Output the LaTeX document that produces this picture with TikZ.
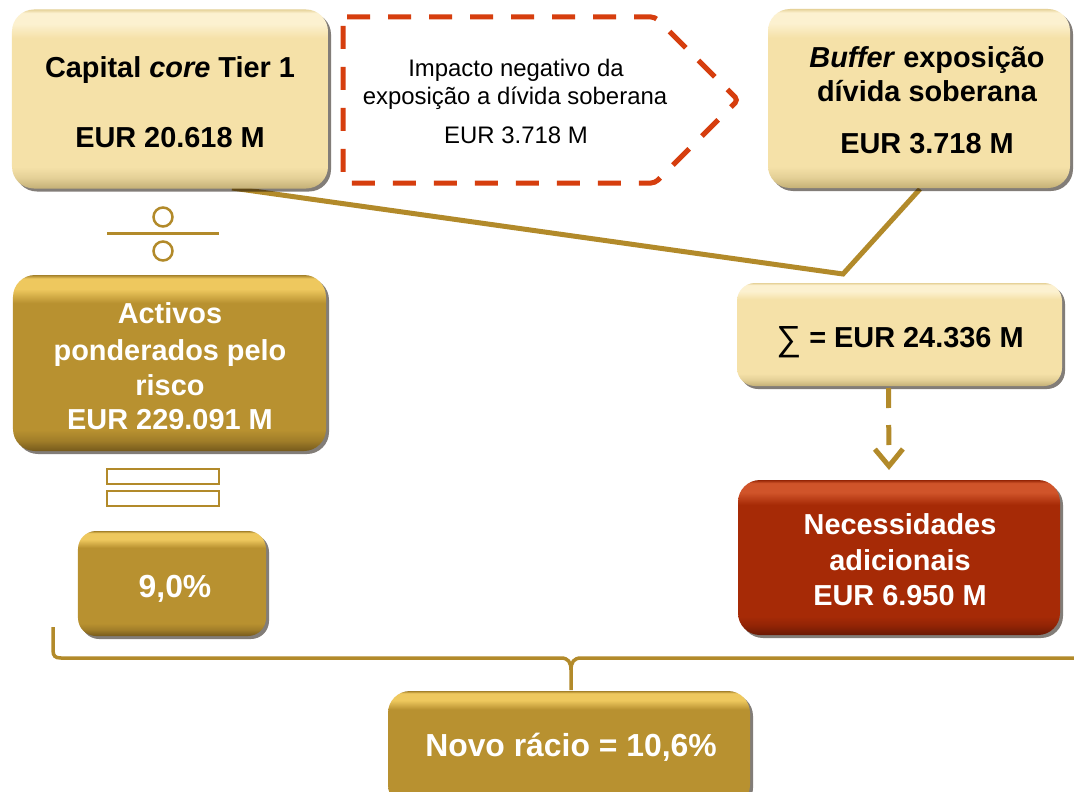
\documentclass[tikz,border=0pt]{standalone}
\usepackage{fontspec}
\setmainfont{Liberation Sans}
\usetikzlibrary{shadows,arrows.meta,calc}

\definecolor{beigeB}{RGB}{245,225,168}
\definecolor{beigeL}{RGB}{252,241,208}
\definecolor{beigeD}{RGB}{196,176,118}
\definecolor{goldB}{RGB}{184,145,48}
\definecolor{goldL}{RGB}{238,200,94}
\definecolor{goldD}{RGB}{118,90,28}
\definecolor{redB}{RGB}{166,42,6}
\definecolor{redL}{RGB}{208,84,42}
\definecolor{redD}{RGB}{105,24,4}
\definecolor{lineGold}{RGB}{178,138,42}
\definecolor{dashRed}{RGB}{214,62,14}

\newcommand\mkbev[4]{%
\pgfdeclareverticalshading{#1}{100bp}{color(0bp)=(#4); color(25bp)=(#4); color(28bp)=(#2!65!#4); color(31bp)=(#2); color(67bp)=(#2); color(71bp)=(#3); color(74bp)=(#3); color(75bp)=(#2!70!#4); color(100bp)=(#2!70!#4)}}
\mkbev{beigebev}{beigeB}{beigeL}{beigeD}
\mkbev{goldbev}{goldB}{goldL}{goldD}
\mkbev{redbev}{redB}{redL}{redD}

\begin{document}
\begin{tikzpicture}[x=1bp, y=-1bp,
  every node/.style={inner sep=0pt, outer sep=0pt},
  bev/.style={shade, shading=#1, draw=none, rounded corners=22bp,
    drop shadow={shadow xshift=3bp, shadow yshift=-3bp, opacity=.55, fill=black!85!brown}},
  tb/.style={font=\bfseries\fontsize{29}{35}\selectfont, anchor=base},
  tbw/.style={tb, text=white},
  tbig/.style={font=\bfseries\fontsize{32}{38}\selectfont, anchor=base, text=white},
  tr/.style={font=\fontsize{24}{28}\selectfont, anchor=base},
  link/.style={draw=lineGold, line width=5bp, line join=miter},
  sym/.style={draw=lineGold, line width=2.5bp, fill=white}
]
\useasboundingbox (0,0) rectangle (1074,792);
\fill[white] (0,0) rectangle (1074,792);

% connectors behind boxes
\coordinate (join) at (843,274);
\draw[link] (232,188) -- (join) -- (920,189);

% top boxes
\node[bev=beigebev, minimum width=316bp, minimum height=179bp] (cap) at (170,99) {};
\node[tb] (cap1) at (170,78) {Capital \textit{core} Tier 1};
\node[tb] (cap2) at (170,147) {EUR 20.618 M};

\node[bev=beigebev, minimum width=302bp, minimum height=179bp] (buf) at (919,98.5) {};
\node[tb] (buf1) at (927,68) {\textit{Buffer} exposição};
\node[tb] (buf2) at (927,102) {dívida soberana};
\node[tb] (buf3) at (927,153) {EUR 3.718 M};

% dashed pentagon
\draw[dashRed, line width=5bp, dash pattern=on 23bp off 18bp, rounded corners=4bp]
  (343,17) -- (655,17) -- (738,100) -- (655,183) -- (343,183) -- cycle;
\node[tr] (imp1) at (516,77) {Impacto negativo da};
\node[tr] (imp2) at (515,105) {exposição a dívida soberana};
\node[tr] (imp3) at (516,143) {EUR 3.718 M};

% divide symbol
\node[sym, circle, minimum size=19bp] (dv1) at (163,217) {};
\node[sym, circle, minimum size=19bp] (dv2) at (163,251) {};
\draw[draw=lineGold, line width=3bp] (107,233) -- (219,233);

% risk weighted assets
\node[bev=goldbev, minimum width=313bp, minimum height=176bp] (rwa) at (169.5,363) {};
\node[tbw] (rwa1) at (170,323) {Activos};
\node[tbw] (rwa2) at (170,360) {ponderados pelo};
\node[tbw] (rwa3) at (170,395) {risco};
\node[tbw] (rwa4) at (170,429) {EUR 229.091 M};

% equals symbol
\node[sym, rectangle, minimum width=112bp, minimum height=15bp] (eq1) at (163,476.5) {};
\node[sym, rectangle, minimum width=112bp, minimum height=15bp] (eq2) at (163,498.5) {};

% 9,0%
\node[bev=goldbev, minimum width=188bp, minimum height=105bp, rounded corners=18bp] (pct) at (172,583.5) {};
\node[tbig] (pct1) at (175,597) {9,0\%};

% sum box
\node[bev=beigebev, minimum width=325bp, minimum height=103bp, rounded corners=18bp] (sum) at (899.5,334.5) {};
\node[tb] (sum1) at (900,347) {\raisebox{-3bp}{\mdseries\fontsize{35}{35}\selectfont ∑} = EUR 24.336 M};

% needs box
\node[bev=redbev, minimum width=322bp, minimum height=155bp] (nec) at (899,557.5) {};
\node[tbw] (nec1) at (900,534) {Necessidades};
\node[tbw] (nec2) at (900,570) {adicionais};
\node[tbw] (nec3) at (900,605) {EUR 6.950 M};

% dashed arrow
\draw[draw=lineGold, line width=5bp, dash pattern=on 20bp off 17bp,
  -{Straight Barb[length=17bp, width=28bp]}]
  ($(sum.south)+(-11,2)$) -- ($(nec.north)+(-10,-10)$);

% brace
\draw[draw=lineGold, line width=3.5bp]
  (53,627) -- (53,650) .. controls (53,656) and (55,658) .. (61,658)
  -- (561,658) .. controls (568,658) and (571,662) .. (571,670) -- (571,690);
\draw[draw=lineGold, line width=3.5bp]
  (1080,658) -- (581,658) .. controls (574,658) and (571,662) .. (571,670);

% new ratio
\node[bev=goldbev, minimum width=362bp, minimum height=116bp] (novo) at (569,749) {};
\node[tbig] (novo1) at (571,756) {Novo rácio = 10,6\%};
\end{tikzpicture}
\end{document}
